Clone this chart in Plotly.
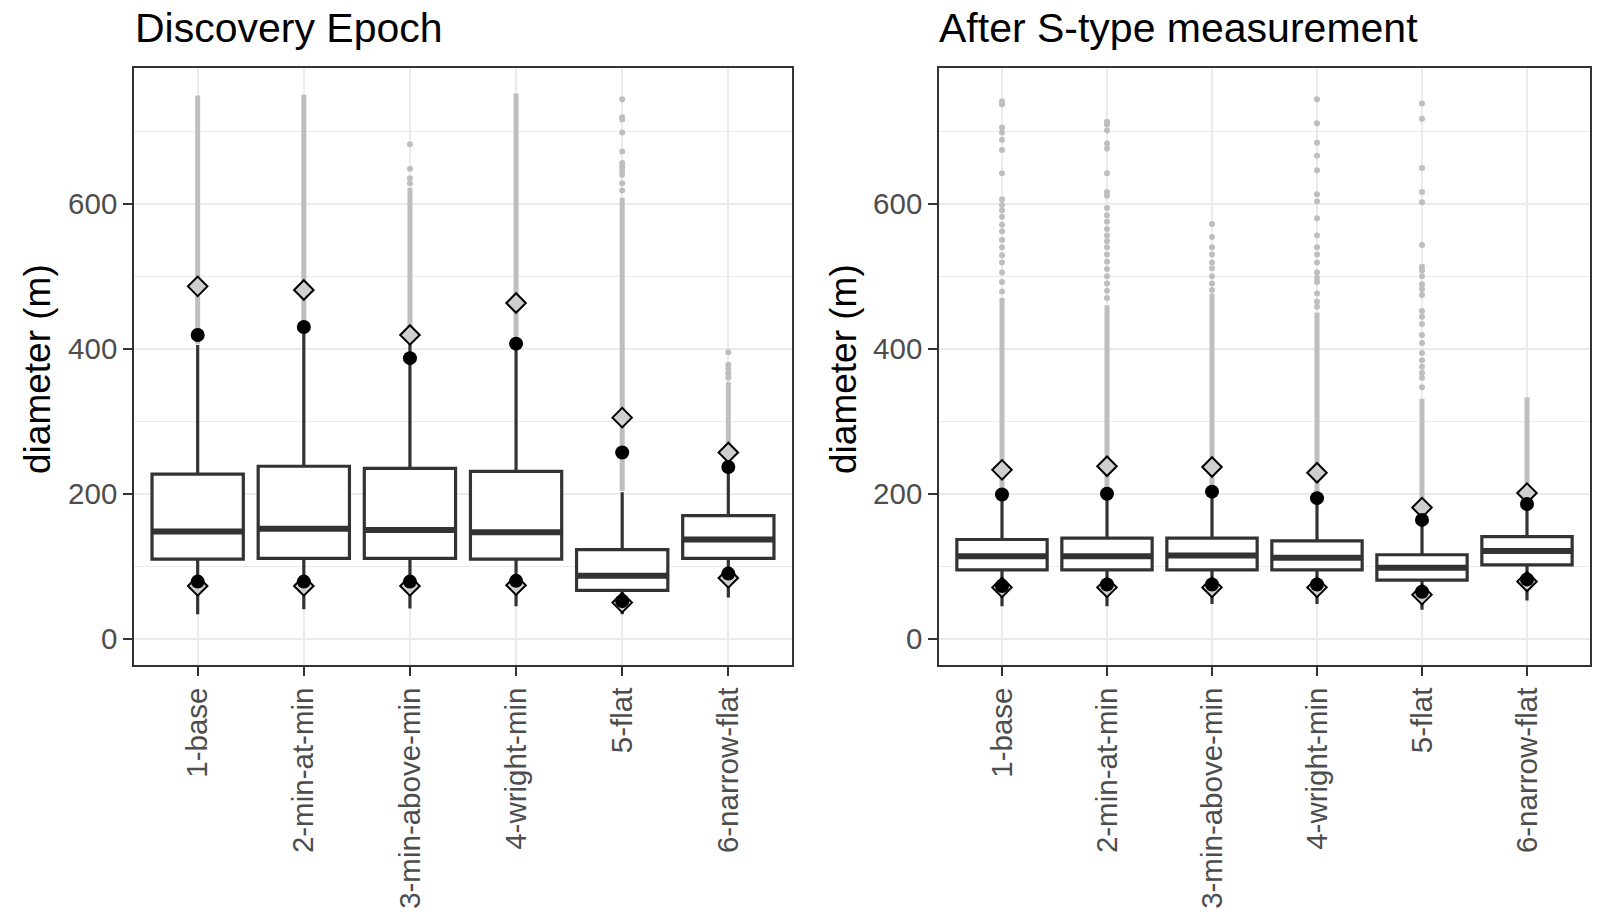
import plotly.graph_objects as go

# ---------------- data ----------------
categories = ["1-base", "2-min-at-min", "3-min-above-min", "4-wright-min", "5-flat", "6-narrow-flat"]
cat_pos = [1, 2, 3, 4, 5, 6]

panel_titles = ["Discovery Epoch", "After S-type measurement"]
y_label = "diameter (m)"
y_ticks = [0, 200, 400, 600]

# Panel 1: Discovery Epoch
disc_q1 = [110, 111, 111, 110, 67, 111]
disc_median = [148, 152, 150, 147, 87, 137]
disc_q3 = [227, 238, 235, 231, 123, 170]
disc_whisk_lo = [34, 41, 42, 45, 34, 57]
disc_whisk_hi = [405, 427, 412, 402, 202, 255]
disc_dot_hi = [419, 430, 387, 407, 257, 237]
disc_dot_lo = [79, 79, 79, 80, 52, 90]
disc_dia_hi = [486, 481, 419, 463, 305, 257]
disc_dia_lo = [73, 73, 73, 74, 50, 84]
disc_dense_lo = [407, 429, 414, 404, 204, 257]
disc_dense_hi = [749, 750, 622, 752, 608, 354]
disc_out_1 = []
disc_out_2 = []
disc_out_3 = [682, 648, 635, 628]
disc_out_4 = []
disc_out_5 = [744, 719, 716, 698, 672, 656, 651, 646, 640, 628, 618]
disc_out_6 = [395, 378, 372, 366, 360]

# Panel 2: After S-type measurement
stype_q1 = [95, 95, 95, 95, 81, 102]
stype_median = [114, 114, 115, 112, 98, 121]
stype_q3 = [137, 139, 139, 135, 116, 141]
stype_whisk_lo = [45, 45, 48, 48, 40, 53]
stype_whisk_hi = [200, 203, 205, 195, 167, 199]
stype_dot_hi = [199, 200, 203, 194, 164, 186]
stype_dot_lo = [73, 75, 75, 75, 65, 82]
stype_dia_hi = [233, 238, 237, 229, 181, 201]
stype_dia_lo = [71, 71, 71, 71, 61, 79]
stype_dense_lo = [202, 205, 207, 197, 169, 201]
stype_dense_hi = [470, 460, 476, 450, 331, 333]
stype_out_1 = [741, 737, 705, 698, 688, 674, 642, 606, 598, 591, 582, 571, 562, 550, 540, 529, 519, 505, 492, 479]
stype_out_2 = [713, 709, 701, 683, 676, 642, 616, 611, 594, 584, 575, 565, 556, 548, 540, 530, 520, 510, 500, 490, 480, 470]
stype_out_3 = [572, 554, 540, 530, 519, 511, 500, 490, 481]
stype_out_4 = [744, 711, 684, 666, 646, 613, 603, 580, 556, 540, 530, 519, 505, 498, 492, 476, 465, 458]
stype_out_5 = [738, 717, 649, 616, 602, 543, 513, 508, 500, 489, 482, 474, 452, 444, 434, 419, 408, 394, 384, 375, 367, 360, 347]
stype_out_6 = []

panels = [
    dict(q1=disc_q1, med=disc_median, q3=disc_q3, lo=disc_whisk_lo, hi=disc_whisk_hi,
         dot_hi=disc_dot_hi, dot_lo=disc_dot_lo, dia_hi=disc_dia_hi, dia_lo=disc_dia_lo,
         dlo=disc_dense_lo, dhi=disc_dense_hi,
         outs=[disc_out_1, disc_out_2, disc_out_3, disc_out_4, disc_out_5, disc_out_6]),
    dict(q1=stype_q1, med=stype_median, q3=stype_q3, lo=stype_whisk_lo, hi=stype_whisk_hi,
         dot_hi=stype_dot_hi, dot_lo=stype_dot_lo, dia_hi=stype_dia_hi, dia_lo=stype_dia_lo,
         dlo=stype_dense_lo, dhi=stype_dense_hi,
         outs=[stype_out_1, stype_out_2, stype_out_3, stype_out_4, stype_out_5, stype_out_6]),
]

# ---------------- style ----------------
W, H = 1601, 922
FONT = "Liberation Sans, Arial, Helvetica, sans-serif"
DARK = "#333333"
GRID = "#EBEBEB"
OUTLIER = "#BEBEBE"
BOX_W = 0.86

# panel pixel boxes (left, right), top/bottom shared
px_x = [(134, 792), (939, 1590)]
px_top, px_bot = 68, 665

fig = go.Figure()

for i, p in enumerate(panels):
    xa = "x" if i == 0 else "x2"
    ya = "y" if i == 0 else "y2"

    # dense outlier streaks
    sx, sy = [], []
    for c, a, b in zip(cat_pos, p["dlo"], p["dhi"]):
        sx += [c, c, None]
        sy += [a, b, None]
    fig.add_trace(go.Scatter(x=sx, y=sy, mode="lines", line=dict(color=OUTLIER, width=5),
                             xaxis=xa, yaxis=ya, hoverinfo="skip", showlegend=False))
    # isolated outliers
    ox, oy = [], []
    for c, vals in zip(cat_pos, p["outs"]):
        ox += [c] * len(vals)
        oy += vals
    fig.add_trace(go.Scatter(x=ox, y=oy, mode="markers",
                             marker=dict(color=OUTLIER, size=6, line=dict(width=0)),
                             xaxis=xa, yaxis=ya, hoverinfo="skip", showlegend=False))

    # boxes
    fig.add_trace(go.Box(x=cat_pos, q1=p["q1"], median=p["med"], q3=p["q3"],
                         lowerfence=p["lo"], upperfence=p["hi"],
                         width=BOX_W, whiskerwidth=0, boxpoints=False,
                         line=dict(color=DARK, width=3.2), fillcolor="white",
                         xaxis=xa, yaxis=ya, hoverinfo="skip", showlegend=False))
    # thick median lines
    mx, my = [], []
    for c, m in zip(cat_pos, p["med"]):
        mx += [c - BOX_W / 2, c + BOX_W / 2, None]
        my += [m, m, None]
    fig.add_trace(go.Scatter(x=mx, y=my, mode="lines", line=dict(color=DARK, width=6),
                             xaxis=xa, yaxis=ya, hoverinfo="skip", showlegend=False))

    # diamonds
    fig.add_trace(go.Scatter(x=cat_pos + cat_pos, y=p["dia_hi"] + p["dia_lo"], mode="markers",
                             marker=dict(symbol="diamond", size=15, color="#CFCFCF",
                                         line=dict(color="black", width=2)),
                             xaxis=xa, yaxis=ya, hoverinfo="skip", showlegend=False))
    # black dots
    fig.add_trace(go.Scatter(x=cat_pos + cat_pos, y=p["dot_hi"] + p["dot_lo"], mode="markers",
                             marker=dict(symbol="circle", size=14, color="black", line=dict(width=0)),
                             xaxis=xa, yaxis=ya, hoverinfo="skip", showlegend=False))

tickfont = dict(family=FONT, size=29.5, color="#4D4D4D")

def xaxis_cfg(i):
    l, r = px_x[i]
    return dict(domain=[l / W, r / W], range=[0.4, 6.6], tickmode="array", tickvals=cat_pos,
                ticktext=categories, tickangle=-90, tickfont=tickfont,
                showgrid=True, gridcolor=GRID, gridwidth=2, zeroline=False,
                ticks="outside", ticklen=9, tickwidth=2, tickcolor=DARK,
                showline=True, mirror=True, linecolor=DARK, linewidth=1.5,
                anchor="y" if i == 0 else "y2", fixedrange=True)

def yaxis_cfg(i):
    return dict(domain=[1 - px_bot / H, 1 - px_top / H], range=[-36, 787],
                tickmode="array", tickvals=y_ticks, tickfont=tickfont,
                showgrid=True, gridcolor=GRID, gridwidth=2, zeroline=False,
                minor=dict(dtick=100, tick0=0, showgrid=True, gridcolor=GRID, gridwidth=1.2, ticks=""),
                ticks="outside", ticklen=9, tickwidth=2, tickcolor=DARK,
                showline=True, mirror=True, linecolor=DARK, linewidth=1.5,
                anchor="x" if i == 0 else "x2", fixedrange=True)

annotations = []
title_x = [133, 937]
ytitle_x = [37, 843]
for i in range(2):
    annotations.append(dict(text=panel_titles[i], xref="paper", yref="paper",
                            x=title_x[i] / W, y=1 - 28 / H, xanchor="left", yanchor="middle",
                            showarrow=False, font=dict(family=FONT, size=41, color="black")))
    annotations.append(dict(text=y_label, xref="paper", yref="paper",
                            x=ytitle_x[i] / W, y=1 - 369 / H, xanchor="center", yanchor="middle",
                            textangle=-90, showarrow=False,
                            font=dict(family=FONT, size=37, color="black")))

fig.update_layout(
    width=W, height=H, margin=dict(l=0, r=0, t=0, b=0),
    paper_bgcolor="white", plot_bgcolor="white",
    xaxis=xaxis_cfg(0), yaxis=yaxis_cfg(0),
    xaxis2=xaxis_cfg(1), yaxis2=yaxis_cfg(1),
    annotations=annotations, showlegend=False,
)

fig.write_html("out.html")
